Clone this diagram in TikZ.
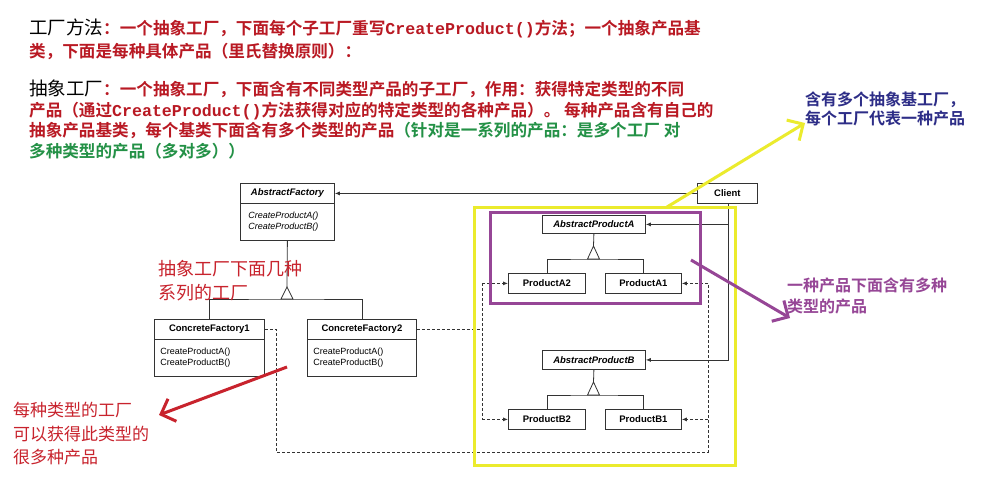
\documentclass[tikz,border=0pt]{standalone}
\usepackage{fontspec}
\setmainfont{Liberation Sans}
\newfontfamily\cjk{Noto Sans CJK SC}
\newfontfamily\cjkb{Noto Sans CJK SC Bold}
\newfontfamily\monob{Liberation Mono Bold}
\usetikzlibrary{arrows.meta}
\definecolor{tred}{RGB}{185,25,35}
\definecolor{tgreen}{RGB}{35,145,70}
\definecolor{tblue}{RGB}{45,45,135}
\definecolor{tpurple}{RGB}{150,70,150}
\definecolor{tyellow}{RGB}{235,235,45}
\definecolor{ared}{RGB}{200,35,45}
\tikzset{
  box/.style={draw=black!80, line width=0.8pt, inner sep=0pt, anchor=north west, font=\fontsize{9.5}{10}\selectfont\bfseries},
  body/.style={draw=black!80, line width=0.8pt, inner sep=0pt, anchor=north west, font=\fontsize{9}{11.5}\selectfont, align=left, text width=100pt},
  uml/.style={draw=black!80, line width=0.8pt},
  assoc/.style={uml, -{Latex[length=5pt,width=4pt]}},
  dep/.style={uml, dashed, dash pattern=on 3pt off 2pt, -{Latex[length=5pt,width=4pt]}},
  dline/.style={uml, dash pattern=on 3pt off 2pt},
  note/.style={anchor=north west, align=left, inner sep=0pt},
  bigarrow/.style={line width=3pt, -{Straight Barb[length=12pt,width=24pt]}},
}
\newcommand{\bx}[6]{\node[box, minimum width={#4-#2}, minimum height={#5-#3}] (#1) at (#2,#3) {#6};}
\begin{document}
\begin{tikzpicture}[x=1pt,y=-1pt]
\useasboundingbox[fill=white] (0,0) rectangle (1002,496);
% top text
\node[note, font=\fontsize{16.6}{22.5}\selectfont\cjkb] (t1) at (29,19) {%
{\color{black}\fontsize{18.5}{22}\cjk 工厂方法}{\color{tred}：一个抽象工厂，下面每个子工厂重写{\monob CreateProduct()}方法；一个抽象产品基}\\
{\color{tred}类，下面是每种具体产品（里氏替换原则）：}};
\node[note, font=\fontsize{16.6}{20.5}\selectfont\cjkb] (t2) at (29,80) {%
{\color{black}\fontsize{18.5}{22}\cjk 抽象工厂}{\color{tred}：一个抽象工厂，下面含有不同类型产品的子工厂，作用：获得特定类型的不同}\\
{\color{tred}产品（通过{\monob CreateProduct()}方法获得对应的特定类型的各种产品）。 每种产品含有自己的}\\
{\color{tred}抽象产品基类，每个基类下面含有多个类型的产品}{\color{tgreen}（针对是一系列的产品：是多个工厂 对}\\
{\color{tgreen}多种类型的产品（多对多））}};
% UML boxes
\bx{af}{240}{183}{334}{203}{\itshape AbstractFactory}
\node[body, minimum width=94, minimum height=37, text width=86] (afb) at (240,203) {\itshape\hspace*{4pt}CreateProductA()\\\itshape\hspace*{4pt}CreateProductB()};
\bx{cl}{697}{183}{757}{203}{Client}
\bx{apa}{542}{215}{645}{233}{\itshape AbstractProductA}
\bx{pa2}{508}{273}{585}{293}{ProductA2}
\bx{pa1}{605}{273}{681}{293}{ProductA1}
\bx{apb}{542}{350}{645}{369}{\itshape AbstractProductB}
\bx{pb2}{508}{409}{585}{429}{ProductB2}
\bx{pb1}{605}{409}{681}{429}{ProductB1}
\bx{cf1}{154}{319}{264}{339}{ConcreteFactory1}
\node[body, minimum width=110, minimum height=37, text width=102] (cf1b) at (154,339) {\hspace*{2pt}CreateProductA()\\\hspace*{2pt}CreateProductB()};
\bx{cf2}{307}{319}{416}{339}{ConcreteFactory2}
\node[body, minimum width=109, minimum height=37, text width=101] (cf2b) at (307,339) {\hspace*{2pt}CreateProductA()\\\hspace*{2pt}CreateProductB()};
% associations
\draw[assoc] (cl.west) -- (af.east);
\coordinate (cd) at (728,203);
\draw[assoc] (cd) |- (apa.east);
\draw[assoc] (cd) |- (apb.east);
% inheritance A
\draw[uml] (apa.south) -- (593.5,246);
\draw[uml, fill=white] (593.5,246) -- (587.5,259) -- (599.5,259) -- cycle;
\draw[uml] (pa2.north) |- (593.5,259) -| (pa1.north);
% inheritance B
\draw[uml] (apb.south) -- (593.5,382);
\draw[uml, fill=white] (593.5,382) -- (587.5,395) -- (599.5,395) -- cycle;
\draw[uml] (pb2.north) |- (593.5,395) -| (pb1.north);
% inheritance factories
\draw[uml] (afb.south) -- (287,287);
\draw[uml, fill=white] (287,287) -- (281,299) -- (293,299) -- cycle;
\draw[uml] (cf1.north) |- (287,299) -| (cf2.north);
% dependencies
\coordinate (d1) at (276,452);
\coordinate (d2) at (708,452);
\coordinate (d3) at (482,283);
\coordinate (d4) at (482,419);
\draw[dline] (cf1.east) -| (d1) -- (d2) -- (d2 |- pa1.east);
\draw[dep] (d2 |- pa1.east) -- (pa1.east);
\draw[dep] (d2 |- pb1.east) -- (pb1.east);
\draw[dline] (cf2.east) -- (cf2.east -| d3);
\draw[dline] (d3 |- pa2.west) -- (d3 |- pb2.west);
\draw[dep] (d3 |- pa2.west) -- (pa2.west);
\draw[dep] (d3 |- pb2.west) -- (pb2.west);
% highlights
\draw[tyellow, line width=3pt] (474,207) rectangle (735,465);
\draw[tpurple, line width=3pt] (490,212) rectangle (700,303);
\coordinate (ya) at (667,207);
\coordinate (yb) at (805,123);
\draw[tyellow, bigarrow] (ya) -- (yb);
\coordinate (pa) at (691,260);
\coordinate (pb) at (790,318);
\draw[tpurple, bigarrow] (pa) -- (pb);
\coordinate (ra) at (287,367);
\coordinate (rb) at (159,415);
\draw[ared, bigarrow] (ra) -- (rb);
% notes
\node[note, text=tblue, font=\fontsize{16}{19}\selectfont\cjkb] (n1) at (805,92) {含有多个抽象基工厂，\\每个工厂代表一种产品};
\node[note, text=tpurple, font=\fontsize{16}{21}\selectfont\cjkb] (n2) at (787,278) {一种产品下面含有多种\\类型的产品};
\node[note, text=ared, font=\fontsize{18}{24}\selectfont\cjk] (n3) at (158,260) {抽象工厂下面几种\\系列的工厂};
\node[note, text=ared, font=\fontsize{17}{23.5}\selectfont\cjk] (n4) at (13,402) {每种类型的工厂\\可以获得此类型的\\很多种产品};
\end{tikzpicture}
\end{document}
